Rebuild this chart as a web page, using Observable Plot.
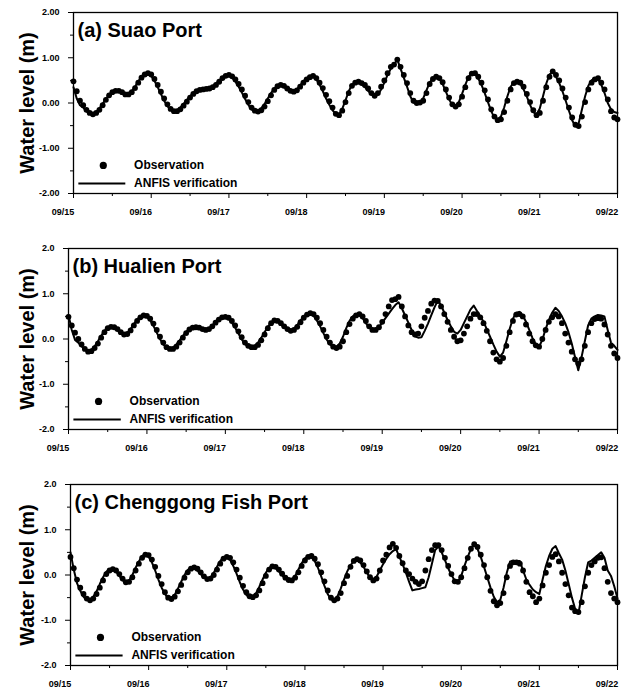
<!DOCTYPE html>
<html><head><meta charset="utf-8">
<script src="https://cdn.jsdelivr.net/npm/d3@7"></script>
<script src="https://cdn.jsdelivr.net/npm/@observablehq/plot@0.6"></script>
<style>
html,body{margin:0;padding:0;background:#fff;}
#chart svg{display:block;}
</style></head><body><div id="chart"></div>
<script>
// ---- labels / ticks ----
const startDate = new Date(Date.UTC(2015, 8, 15));
const endDate = new Date(Date.UTC(2015, 8, 22));
const stationTitles = ["(a) Suao Port", "(b) Hualien Port", "(c) Chenggong Fish Port"];
const yDecimals = [2, 1, 1];
const yMajorTicks = [-2, -1, 0, 1, 2];
const yMinorTicks = [-1.5, -0.5, 0.5, 1.5];
const legendLabels = ["Observation", "ANFIS verification"];
const yAxisTitle = "Water level (m)";

// ---- hourly water level (m), 09/15 00:00 .. 09/22 00:00 ----
const suaoObs = [
 0.48,0.26,0.05,-0.05,-0.15,-0.22,-0.25,-0.22,-0.15,-0.05,0.07,0.17,
 0.24,0.27,0.27,0.24,0.19,0.19,0.24,0.33,0.45,0.56,0.63,0.66,
 0.63,0.53,0.40,0.25,0.10,-0.03,-0.13,-0.18,-0.18,-0.14,-0.06,0.03,
 0.12,0.20,0.26,0.29,0.30,0.31,0.32,0.35,0.40,0.47,0.55,0.60,
 0.62,0.59,0.52,0.42,0.30,0.16,0.02,-0.10,-0.17,-0.19,-0.16,-0.08,
 0.04,0.17,0.29,0.37,0.40,0.38,0.32,0.27,0.25,0.28,0.36,0.45,
 0.52,0.57,0.60,0.55,0.45,0.33,0.18,0.04,-0.10,-0.24,-0.27,-0.17,
 0.02,0.22,0.38,0.45,0.47,0.44,0.40,0.32,0.22,0.16,0.22,0.36,
 0.50,0.66,0.80,0.85,0.96,0.80,0.62,0.44,0.22,0.05,0.00,0.01,
 0.05,0.22,0.42,0.53,0.58,0.55,0.46,0.30,0.12,-0.03,-0.08,-0.03,
 0.14,0.35,0.55,0.65,0.66,0.58,0.45,0.28,0.08,-0.14,-0.30,-0.38,
 -0.36,-0.20,0.05,0.30,0.44,0.47,0.45,0.36,0.20,0.02,-0.16,-0.27,
 -0.22,0.05,0.35,0.58,0.70,0.62,0.50,0.32,0.12,-0.10,-0.32,-0.48,
 -0.51,-0.30,0.02,0.30,0.45,0.52,0.55,0.45,0.30,0.08,-0.18,-0.32,
 -0.36];
const suaoAnfis = [
 0.35,0.10,-0.05,-0.10,-0.18,-0.24,-0.25,-0.20,-0.12,-0.02,0.09,0.18,
 0.25,0.27,0.26,0.22,0.18,0.19,0.26,0.36,0.48,0.58,0.64,0.65,
 0.60,0.49,0.35,0.20,0.05,-0.07,-0.15,-0.18,-0.16,-0.10,-0.02,0.07,
 0.15,0.22,0.27,0.29,0.30,0.31,0.33,0.37,0.43,0.50,0.57,0.61,
 0.61,0.56,0.47,0.36,0.23,0.09,-0.04,-0.14,-0.19,-0.18,-0.12,-0.02,
 0.10,0.22,0.32,0.38,0.39,0.36,0.30,0.26,0.25,0.30,0.39,0.48,
 0.55,0.59,0.59,0.52,0.40,0.26,0.10,-0.04,-0.16,-0.24,-0.26,-0.13,
 0.06,0.26,0.40,0.46,0.47,0.42,0.35,0.27,0.19,0.15,0.18,0.30,
 0.45,0.62,0.76,0.85,0.96,0.76,0.56,0.36,0.15,0.01,-0.01,0.02,
 0.10,0.28,0.45,0.55,0.58,0.53,0.42,0.25,0.08,-0.05,-0.07,0.02,
 0.20,0.40,0.58,0.66,0.64,0.54,0.40,0.22,0.02,-0.18,-0.33,-0.37,
 -0.30,-0.10,0.15,0.36,0.46,0.47,0.42,0.30,0.14,-0.04,-0.20,-0.26,
 -0.12,0.15,0.43,0.63,0.69,0.58,0.44,0.26,0.05,-0.17,-0.38,-0.52,
 -0.45,-0.15,0.15,0.38,0.50,0.55,0.53,0.40,0.22,0.00,-0.14,-0.20,
 -0.22];
const hualienObs = [
 0.49,0.30,0.14,0.00,-0.12,-0.22,-0.28,-0.27,-0.20,-0.10,0.03,0.15,
 0.24,0.27,0.26,0.22,0.15,0.10,0.11,0.19,0.30,0.40,0.48,0.52,
 0.51,0.45,0.34,0.20,0.05,-0.08,-0.18,-0.22,-0.22,-0.17,-0.08,0.03,
 0.13,0.21,0.25,0.26,0.25,0.22,0.20,0.22,0.28,0.36,0.43,0.48,
 0.49,0.47,0.40,0.30,0.17,0.04,-0.08,-0.15,-0.18,-0.18,-0.13,-0.03,
 0.10,0.24,0.35,0.41,0.40,0.35,0.28,0.22,0.18,0.20,0.27,0.37,
 0.47,0.54,0.57,0.55,0.47,0.35,0.20,0.05,-0.08,-0.17,-0.20,-0.17,
 -0.05,0.15,0.33,0.45,0.52,0.55,0.50,0.40,0.28,0.20,0.20,0.26,
 0.38,0.55,0.72,0.86,0.88,0.93,0.72,0.50,0.30,0.15,0.10,0.12,
 0.28,0.47,0.62,0.78,0.85,0.84,0.72,0.55,0.38,0.20,0.05,-0.05,
 -0.03,0.12,0.28,0.45,0.55,0.55,0.48,0.35,0.18,-0.05,-0.30,-0.45,
 -0.50,-0.42,-0.15,0.15,0.40,0.54,0.55,0.50,0.32,0.12,-0.05,-0.14,
 -0.17,0.00,0.20,0.38,0.48,0.55,0.50,0.35,0.12,-0.08,-0.28,-0.45,
 -0.54,-0.45,-0.15,0.15,0.35,0.44,0.46,0.45,0.32,0.10,-0.15,-0.32,
 -0.42];
const hualienAnfis = [
 0.53,0.20,-0.02,-0.08,-0.16,-0.24,-0.27,-0.24,-0.16,-0.05,0.07,0.18,
 0.25,0.27,0.25,0.20,0.13,0.10,0.13,0.22,0.33,0.43,0.50,0.52,
 0.49,0.41,0.29,0.14,0.00,-0.12,-0.19,-0.21,-0.19,-0.12,-0.03,0.07,
 0.16,0.22,0.25,0.25,0.23,0.20,0.19,0.23,0.30,0.38,0.45,0.49,
 0.49,0.45,0.36,0.25,0.12,-0.01,-0.11,-0.17,-0.18,-0.15,-0.08,0.03,
 0.15,0.27,0.36,0.40,0.38,0.32,0.26,0.21,0.19,0.23,0.31,0.41,
 0.50,0.55,0.56,0.51,0.41,0.28,0.13,-0.01,-0.12,-0.17,-0.17,-0.10,
 0.05,0.24,0.40,0.50,0.55,0.54,0.46,0.35,0.25,0.20,0.21,0.26,
 0.36,0.46,0.56,0.66,0.75,0.81,0.68,0.52,0.36,0.20,0.06,0.03,
 0.04,0.18,0.34,0.52,0.70,0.85,0.75,0.58,0.42,0.28,0.16,0.12,
 0.20,0.35,0.50,0.65,0.74,0.62,0.50,0.38,0.22,0.05,-0.12,-0.28,
 -0.39,-0.30,-0.05,0.22,0.45,0.58,0.60,0.52,0.38,0.20,0.02,-0.12,
 -0.17,-0.02,0.22,0.42,0.58,0.69,0.62,0.50,0.35,0.15,-0.10,-0.40,
 -0.69,-0.40,-0.05,0.30,0.45,0.50,0.53,0.52,0.50,0.20,-0.08,-0.15,
 -0.24];
const chenggongObs = [
 0.40,0.15,-0.10,-0.28,-0.42,-0.52,-0.56,-0.52,-0.42,-0.28,-0.12,0.02,
 0.10,0.13,0.10,0.02,-0.08,-0.16,-0.15,-0.05,0.10,0.25,0.38,0.45,
 0.44,0.34,0.18,-0.02,-0.20,-0.38,-0.50,-0.53,-0.48,-0.36,-0.22,-0.06,
 0.06,0.14,0.17,0.14,0.06,-0.03,-0.09,-0.08,0.00,0.12,0.25,0.36,
 0.40,0.38,0.28,0.12,-0.06,-0.24,-0.38,-0.47,-0.49,-0.45,-0.34,-0.18,
 -0.02,0.12,0.19,0.18,0.12,0.03,-0.06,-0.11,-0.12,-0.06,0.06,0.20,
 0.32,0.40,0.42,0.36,0.24,0.06,-0.14,-0.34,-0.50,-0.56,-0.52,-0.40,
 -0.18,-0.02,0.18,0.31,0.35,0.32,0.22,0.08,-0.05,-0.12,-0.08,0.10,
 0.32,0.45,0.61,0.69,0.60,0.42,0.26,0.10,0.02,-0.08,-0.15,-0.20,
 -0.14,0.10,0.35,0.55,0.66,0.66,0.55,0.38,0.20,0.02,-0.14,-0.15,
 -0.05,0.15,0.38,0.58,0.68,0.62,0.45,0.22,-0.05,-0.35,-0.58,-0.67,
 -0.62,-0.40,-0.05,0.20,0.28,0.28,0.25,0.10,-0.15,-0.38,-0.47,-0.60,
 -0.52,-0.23,0.05,0.22,0.40,0.46,0.30,0.05,-0.20,-0.45,-0.72,-0.80,
 -0.82,-0.60,-0.25,0.05,0.22,0.30,0.38,0.39,0.15,-0.15,-0.40,-0.52,
 -0.60];
const chenggongAnfis = [
 0.50,0.12,-0.18,-0.35,-0.48,-0.55,-0.55,-0.48,-0.36,-0.20,-0.05,0.07,
 0.13,0.13,0.08,-0.02,-0.12,-0.16,-0.12,0.00,0.16,0.30,0.42,0.46,
 0.40,0.28,0.10,-0.10,-0.28,-0.42,-0.51,-0.52,-0.44,-0.30,-0.15,0.00,
 0.11,0.17,0.16,0.10,0.02,-0.06,-0.09,-0.05,0.05,0.18,0.31,0.39,
 0.40,0.34,0.20,0.03,-0.16,-0.32,-0.44,-0.49,-0.48,-0.40,-0.26,-0.10,
 0.05,0.16,0.20,0.16,0.08,-0.01,-0.09,-0.12,-0.10,-0.02,0.12,0.26,
 0.37,0.42,0.41,0.31,0.16,-0.03,-0.24,-0.42,-0.54,-0.55,-0.47,-0.30,
 -0.10,0.08,0.22,0.30,0.32,0.28,0.18,0.05,-0.06,-0.10,-0.04,0.10,
 0.24,0.36,0.46,0.53,0.57,0.40,0.24,0.05,-0.15,-0.34,-0.32,-0.31,
 -0.29,-0.27,-0.05,0.25,0.55,0.63,0.50,0.33,0.15,0.00,-0.12,-0.15,
 -0.02,0.20,0.40,0.58,0.69,0.58,0.40,0.18,-0.05,-0.28,-0.48,-0.60,
 -0.55,-0.28,0.05,0.30,0.31,0.31,0.31,0.10,-0.10,-0.22,-0.32,-0.38,
 -0.42,-0.10,0.20,0.42,0.58,0.64,0.48,0.34,0.10,-0.20,-0.50,-0.75,
 -0.85,-0.45,-0.05,0.28,0.32,0.38,0.44,0.50,0.38,0.10,-0.02,-0.25,
 -0.52];

// ---- helpers ----
const atHour = h => new Date(+startDate + h * 3600e3);
const toRows = values => values.map((v, i) => ({time: atHour(i), level: v}));
const dayTicks = d3.utcDays(startDate, new Date(+endDate + 1));
const halfDayTicks = d3.utcHours(startDate, endDate).filter(d => d.getUTCHours() === 12);

function panel(i, obs, anfis, marginLeft, height, marginBottom) {
  const fmt = d => d.toFixed(yDecimals[i]);
  const legendDot = [{time: atHour(9.2), level: -1.38}];
  const legendLine = [{t1: atHour(1.5), t2: atHour(16), level: -1.78}];
  const legendText = [
    {time: atHour(18.7), level: -1.38, label: legendLabels[0]},
    {time: atHour(18.7), level: -1.78, label: legendLabels[1]}
  ];
  return Plot.plot({
    width: 626, height, marginTop: 12, marginRight: 9, marginBottom, marginLeft,
    style: {fontFamily: "'Liberation Sans', Arial, sans-serif", fontWeight: "bold", fontSize: "9px", color: "black", background: "white"},
    x: {type: "utc", domain: [startDate, endDate]},
    y: {domain: [-2, 2]},
    marks: [
      Plot.axisY({ticks: yMinorTicks, tickSize: 3, tickFormat: () => "", label: null}),
      Plot.axisY({ticks: yMajorTicks, tickSize: 5, tickPadding: 9, tickFormat: fmt, label: null}),
      Plot.axisX({ticks: halfDayTicks, tickSize: 3, tickFormat: () => "", label: null}),
      Plot.axisX({ticks: dayTicks, tickSize: 5, tickFormat: () => "", label: null}),
      Plot.axisX({ticks: dayTicks, tickSize: 0, tickPadding: 15, dx: -10.5, tickFormat: d3.utcFormat("%m/%d"), label: null}),
      Plot.line(toRows(anfis), {x: "time", y: "level", stroke: "black", strokeWidth: 2}),
      Plot.dot(toRows(obs), {x: "time", y: "level", r: 2.9, fill: "black"}),
      Plot.frame({stroke: "black", strokeWidth: 1.3}),
      Plot.text([stationTitles[i]], {frameAnchor: "top-left", dx: 4, dy: 18, textAnchor: "start", lineAnchor: "middle", fontSize: 20, fontWeight: "bold"}),
      Plot.text([yAxisTitle], {frameAnchor: "left", dx: 27 - marginLeft, rotate: -90, textAnchor: "middle", lineAnchor: "middle", fontSize: 20, fontWeight: "bold"}),
      Plot.dot(legendDot, {x: "time", y: "level", r: 3.6, fill: "black"}),
      Plot.link(legendLine, {x1: "t1", x2: "t2", y1: "level", y2: "level", stroke: "black", strokeWidth: 2}),
      Plot.text(legendText, {x: "time", y: "level", text: "label", textAnchor: "start", lineAnchor: "middle", fontSize: 12, fontWeight: "bold"})
    ]
  });
}

const el = document.getElementById("chart");
el.append(panel(0, suaoObs, suaoAnfis, 73, 236, 43));
el.append(panel(1, hualienObs, hualienAnfis, 68, 236, 43));
el.append(panel(2, chenggongObs, chenggongAnfis, 70, 220, 27));
</script></body></html>
